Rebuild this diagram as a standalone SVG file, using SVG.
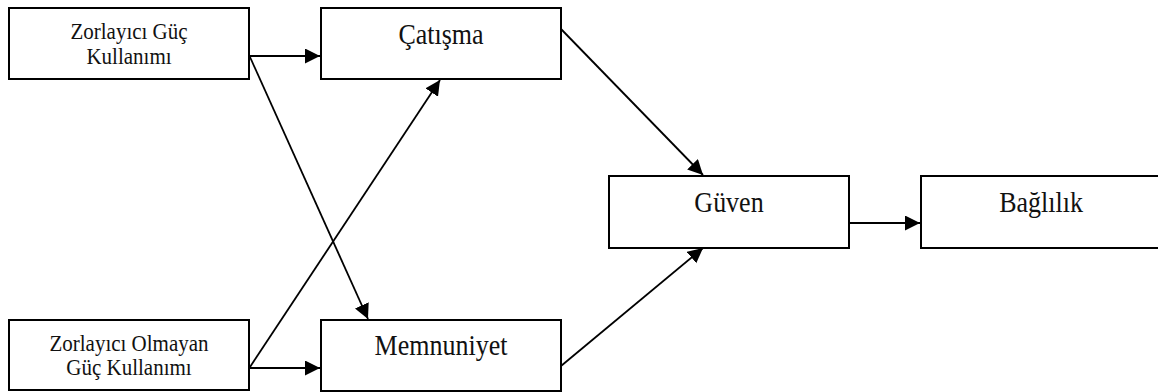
<svg xmlns="http://www.w3.org/2000/svg" width="1158" height="392" viewBox="0 0 1158 392">
  <style>
    .box { fill: #ffffff; stroke: #000000; stroke-width: 2; }
    .lbl { font-family: "Liberation Serif", "Times New Roman", serif; fill: #111111; text-anchor: middle; }
    .sm { font-size: 21px; }
    .lg { font-size: 26px; }
    .link { stroke: #000000; stroke-width: 1.8; fill: none; marker-end: url(#head); }
  </style>
  <defs>
    <marker id="head" markerUnits="userSpaceOnUse" markerWidth="16" markerHeight="16" refX="15" refY="7.5" orient="auto">
      <path d="M0,0 L15,7.5 L0,15 z" fill="#000000"/>
    </marker>
  </defs>
  <rect width="1158" height="392" fill="#ffffff"/>

  <g id="zorlayici-guc">
    <rect class="box" x="9" y="8" width="240" height="71"/>
    <text class="lbl sm" transform="translate(129,39) scale(1,1.12)">Zorlayıcı Güç</text>
    <text class="lbl sm" transform="translate(129,64) scale(1,1.12)">Kullanımı</text>
  </g>

  <g id="zorlayici-olmayan">
    <rect class="box" x="9" y="320" width="240" height="70"/>
    <text class="lbl sm" transform="translate(129,351) scale(1,1.12)">Zorlayıcı Olmayan</text>
    <text class="lbl sm" transform="translate(129,375) scale(1,1.12)">Güç Kullanımı</text>
  </g>

  <g id="catisma">
    <rect class="box" x="321" y="8" width="240" height="71"/>
    <text class="lbl lg" transform="translate(441,44) scale(1,1.12)">Çatışma</text>
  </g>

  <g id="memnuniyet">
    <rect class="box" x="321" y="320" width="240" height="71"/>
    <text class="lbl lg" transform="translate(441,355) scale(1,1.12)">Memnuniyet</text>
  </g>

  <g id="guven">
    <rect class="box" x="609" y="176" width="240" height="72"/>
    <text class="lbl lg" transform="translate(729,212) scale(1,1.12)">Güven</text>
  </g>

  <g id="baglilik">
    <rect class="box" x="921" y="176" width="240" height="72"/>
    <text class="lbl lg" transform="translate(1041,212) scale(1,1.12)">Bağlılık</text>
  </g>

  <g id="connectors">
    <line class="link" x1="249" y1="56" x2="320" y2="56"/>
    <line class="link" x1="250" y1="57" x2="368" y2="319"/>
    <line class="link" x1="249" y1="368" x2="320" y2="368"/>
    <line class="link" x1="250" y1="367" x2="440" y2="80"/>
    <line class="link" x1="561" y1="29" x2="703" y2="175"/>
    <line class="link" x1="561" y1="366" x2="703" y2="248"/>
    <line class="link" x1="849" y1="223" x2="920" y2="223"/>
  </g>
</svg>
